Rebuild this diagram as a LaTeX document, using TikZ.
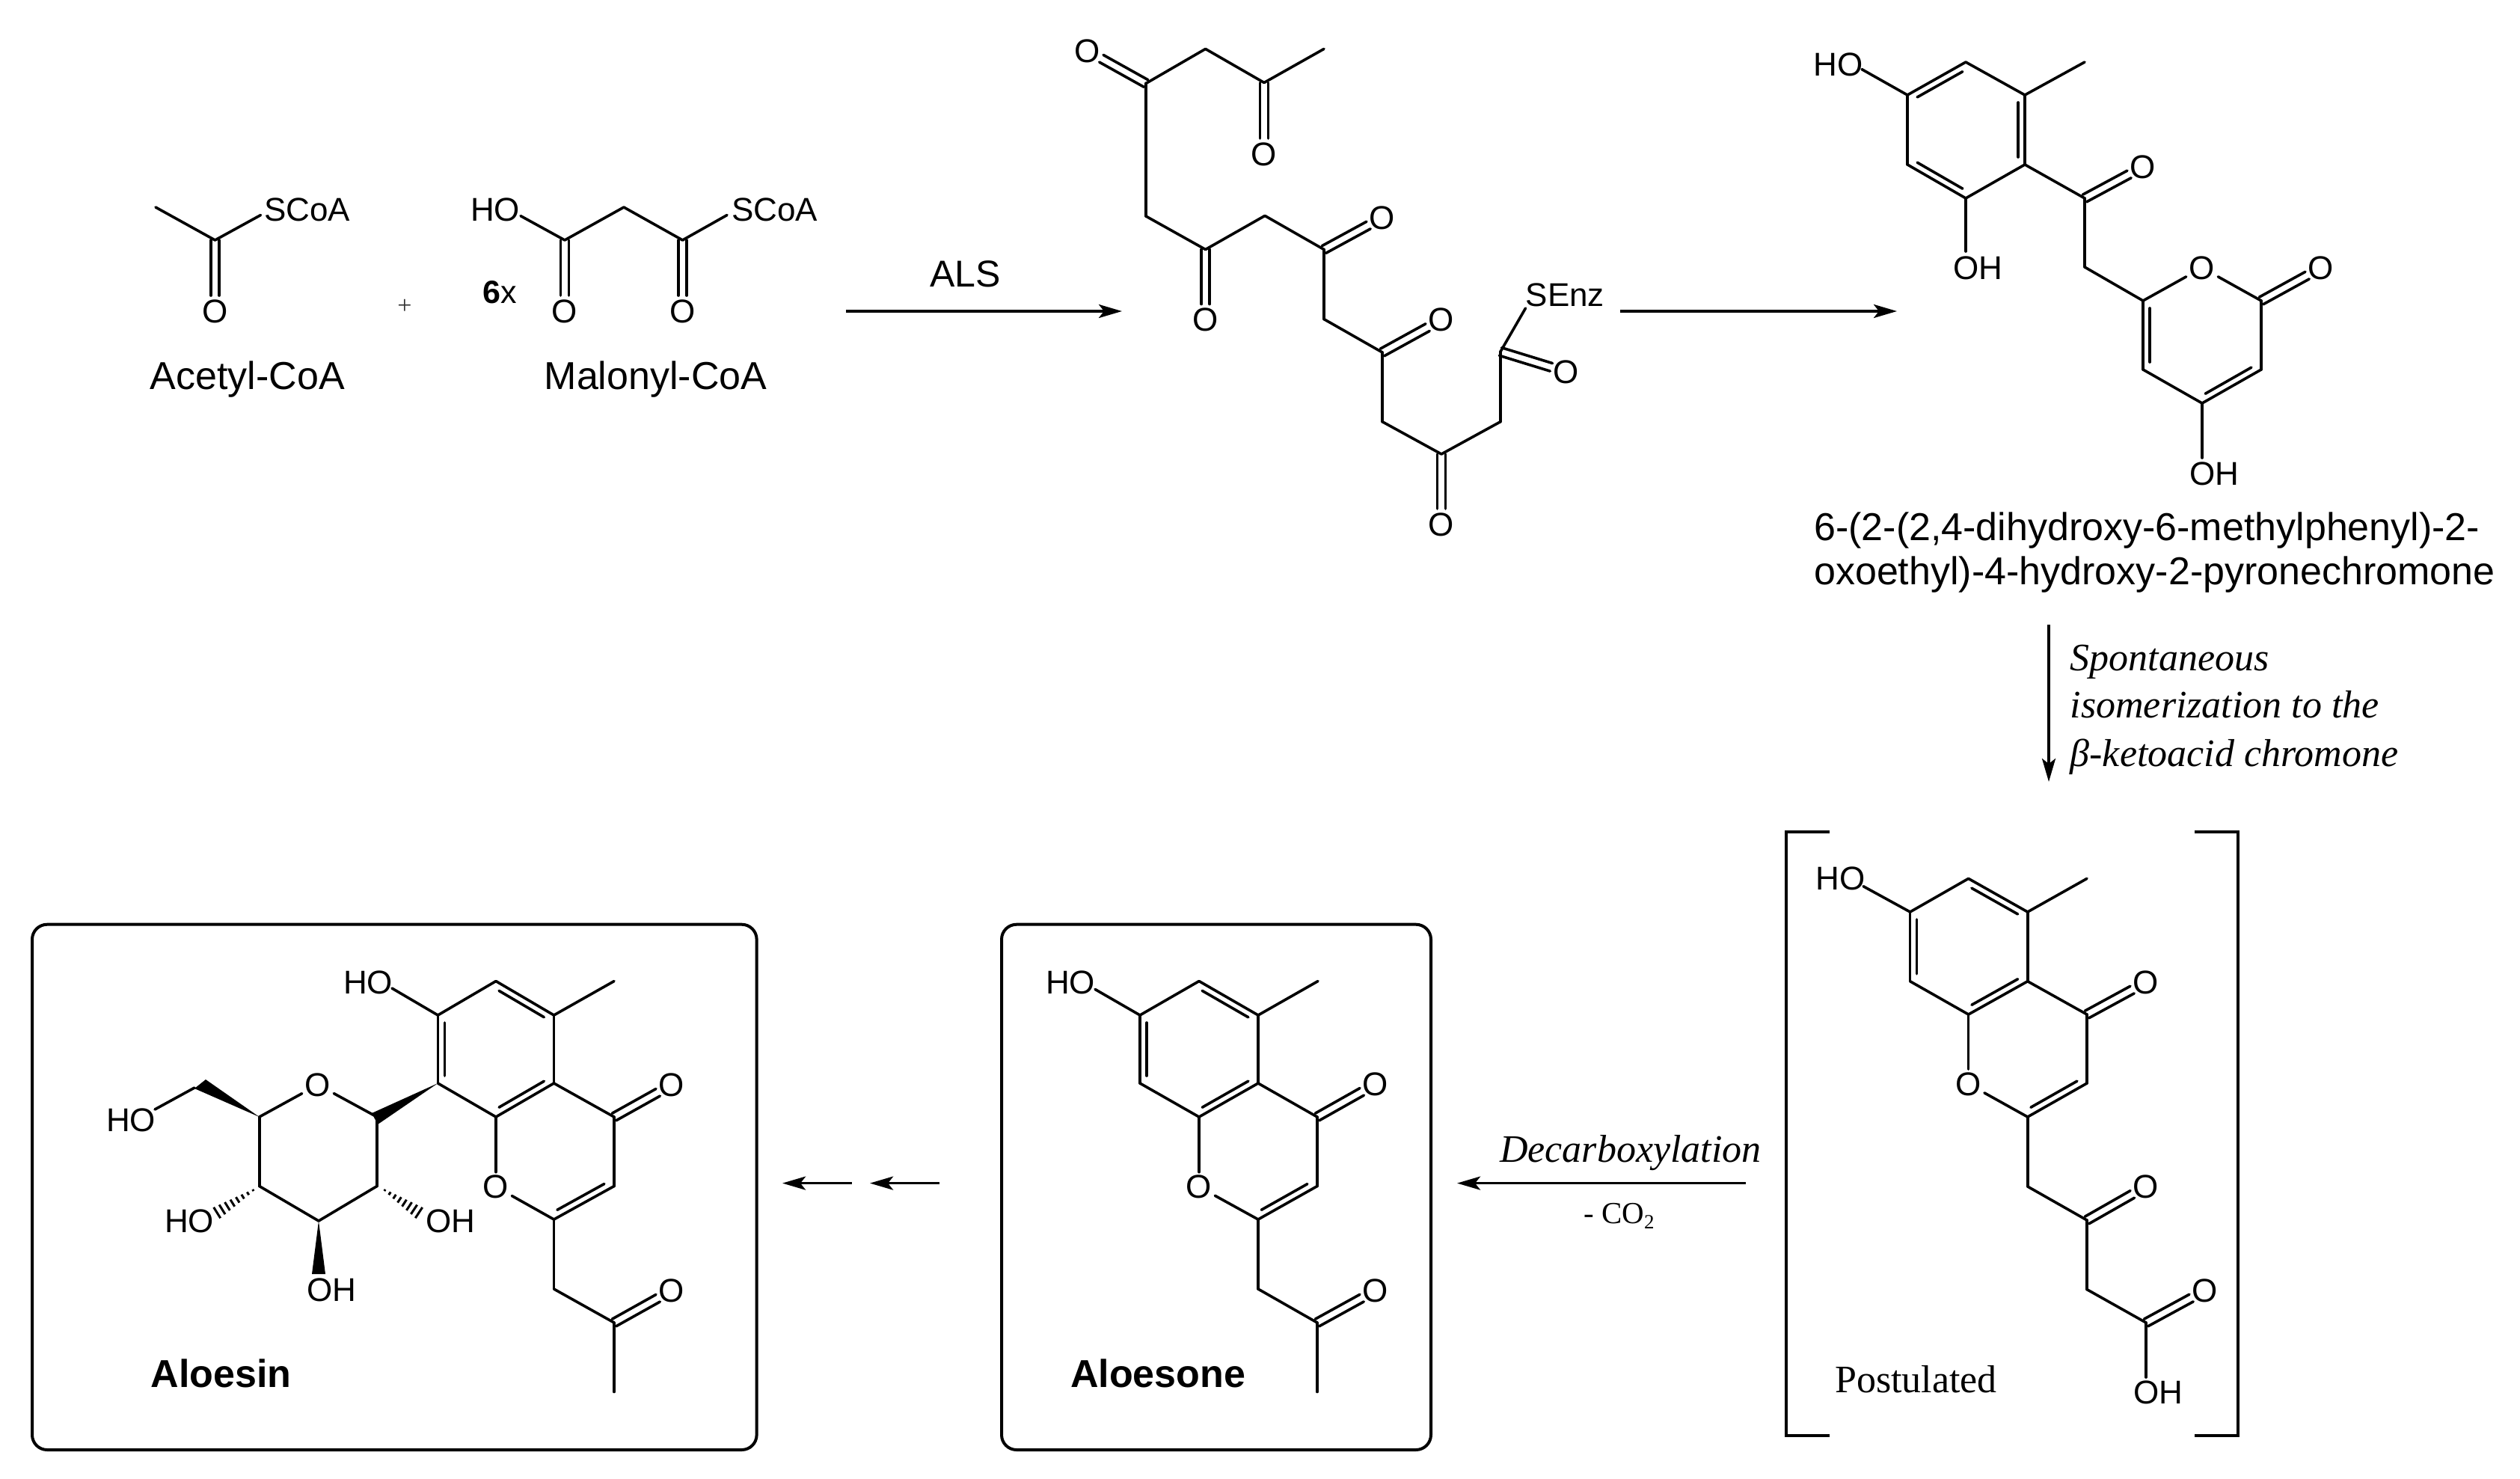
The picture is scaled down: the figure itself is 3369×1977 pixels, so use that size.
\documentclass[tikz,border=0pt]{standalone}
\usepackage{fontspec}
\setmainfont{Liberation Sans}
\newfontfamily\tms{Liberation Serif}
\usetikzlibrary{calc,arrows.meta}
\newcommand{\bnd}[2]{\draw[bond] (#1) -- (#2);}
\newcommand{\dbl}[2]{\draw[bond,shorten >=21pt] ($(#1)!5.5pt!90:(#2)$) -- ($(#2)!5.5pt!-90:(#1)$);\draw[bond,shorten >=21pt] ($(#1)!5.5pt!-90:(#2)$) -- ($(#2)!5.5pt!90:(#1)$);}
\newcommand{\rd}[2]{\draw[bond] (#1) -- (#2);\draw[bond,shorten >=10pt,shorten <=10pt] ($(#1)!9pt!-90:(#2)$) -- ($(#2)!9pt!90:(#1)$);}
\newcommand{\hsh}[2]{\foreach \t in {0.03,0.16,0.29,0.42,0.55,0.68,0.81,0.94}{\pgfmathsetmacro{\w}{1+8*\t}\draw[line width=3pt] ($($(#1)!\t!(#2)$)!\w pt!90:(#2)$) -- ($($(#1)!\t!(#2)$)!\w pt!-90:(#2)$);}}
% ring bonds shared by the three chromones
\newcommand{\chrom}[1]{%
 \bnd{#1a}{#1b}\rd{#1b}{#1c}\bnd{#1c}{#1d}\rd{#1d}{#1e}\bnd{#1e}{#1f}\rd{#1f}{#1a}
 \bnd{#1c}{#1m}\bnd{#1d}{#1g}\dbl{#1g}{#1oa}\bnd{#1g}{#1h}\rd{#1h}{#1i}
 \bnd{#1i}{#1or}\bnd{#1e}{#1or}\bnd{#1i}{#1j}\bnd{#1j}{#1k}\dbl{#1k}{#1ob}}
\tikzset{
 bond/.style={line width=3.6pt,line cap=round,line join=round},
 arrow/.style={line width=3.6pt,-{Stealth[length=31pt,width=18pt,inset=7pt]}},
 frame/.style={line width=4pt,rounded corners=20pt},
 brack/.style={line width=4pt,line join=miter},
 atom/.style={font=\fontsize{44}{44}\selectfont,inner sep=4pt},
 grp/.style={font=\fontsize{44}{44}\selectfont,inner sep=0pt},
 title/.style={font=\fontsize{52}{52}\selectfont,anchor=base west,inner sep=0pt},
 btitle/.style={font=\fontsize{52}{52}\selectfont\bfseries,anchor=base west,inner sep=0pt},
 note/.style={font=\fontsize{52}{52}\selectfont\tms\itshape,anchor=base west,inner sep=0pt},
 plain/.style={font=\fontsize{52}{52}\selectfont\tms,anchor=base west,inner sep=0pt},
}
\begin{document}
\begin{tikzpicture}[x=1pt,y=-1pt]
\useasboundingbox (0,0) rectangle (3369,1977);
% ---------- Acetyl-CoA
\coordinate (Am) at (208,277); \coordinate (Ac) at (287.5,321); \coordinate (As) at (348.5,287.5);
\node[atom] (Ao) at (287.5,416) {O};
\node[grp,anchor=west] (Asc) at (353,280) {SCoA};
\bnd{Am}{Ac}\bnd{Ac}{As}\dbl{Ac}{Ao}
\node[title] (Alab) at (200.5,520) {Acetyl-CoA};
\node[font=\fontsize{34}{34}\selectfont\tms,text=black!80,inner sep=0pt] (plus) at (541,410) {+};
% ---------- Malonyl-CoA
\coordinate (Mh) at (696,288.6); \coordinate (Mc) at (755,321); \coordinate (Mm) at (834,277);
\coordinate (Md) at (912.5,321); \coordinate (Ms) at (972,287.5);
\node[grp,anchor=west] (Mho) at (629,280) {HO};
\node[grp,anchor=west] (Msc) at (978,280) {SCoA};
\node[atom] (Moa) at (755,416) {O};
\node[atom] (Mob) at (912.5,416) {O};
\bnd{Mh}{Mc}\bnd{Mc}{Mm}\bnd{Mm}{Md}\bnd{Md}{Ms}\dbl{Mc}{Moa}\dbl{Md}{Mob}
\node[font=\fontsize{43}{43}\selectfont,anchor=base west,inner sep=0pt] (Msix) at (645,405) {\textbf{6}x};
\node[title] (Mlab) at (727.5,520) {Malonyl-CoA};
% ---------- arrow ALS
\coordinate (a1s) at (1131,416); \coordinate (a1e) at (1500,416);
\draw[arrow] (a1s) -- (a1e);
\node[font=\fontsize{50}{50}\selectfont,anchor=base west,inner sep=0pt] (als) at (1243,383) {ALS};
% ---------- polyketide
\coordinate (P1) at (1532,111.5); \coordinate (P2) at (1611.6,65.4); \coordinate (P3) at (1690,110.5);
\coordinate (P4) at (1770,65.4); \coordinate (P5) at (1532,289); \coordinate (P6) at (1611.6,333.5);
\coordinate (P7) at (1691,288.4); \coordinate (P8) at (1770,333.5); \coordinate (P9) at (1770,426.6);
\coordinate (P10) at (1848,471); \coordinate (P11) at (1848,563.7); \coordinate (P12) at (1927,607);
\coordinate (P13) at (2006,563.7); \coordinate (P14) at (2006,470); \coordinate (Ps) at (2039.5,412);
\node[atom] (Pa) at (1454,68) {O};
\node[atom] (Pb) at (1690,206) {O};
\node[atom] (Pc) at (1611.6,427.5) {O};
\node[atom] (Pd) at (1848,291) {O};
\node[atom] (Pe) at (1927,427.5) {O};
\node[atom] (Pf) at (1927,701) {O};
\node[atom] (Pg) at (2094,497) {O};
\node[grp,anchor=west] (Psenz) at (2039.5,394) {SEnz};
\bnd{P1}{P2}\bnd{P2}{P3}\bnd{P3}{P4}\bnd{P1}{P5}\bnd{P5}{P6}\bnd{P6}{P7}\bnd{P7}{P8}\bnd{P8}{P9}
\bnd{P9}{P10}\bnd{P10}{P11}\bnd{P11}{P12}\bnd{P12}{P13}\bnd{P13}{P14}\bnd{P14}{Ps}
\dbl{P1}{Pa}\dbl{P3}{Pb}\dbl{P6}{Pc}\dbl{P8}{Pd}\dbl{P10}{Pe}\dbl{P12}{Pf}\dbl{P14}{Pg}
% ---------- arrow 2
\coordinate (a2s) at (2166,416); \coordinate (a2e) at (2536,416);
\draw[arrow] (a2s) -- (a2e);
% ---------- pyrone
\coordinate (Ra) at (2550,127); \coordinate (Rb) at (2628,83); \coordinate (Rc) at (2707,127);
\coordinate (Rd) at (2707,220); \coordinate (Re) at (2628,265); \coordinate (Rf) at (2550,220);
\coordinate (Rm) at (2787,83); \coordinate (Rh) at (2489,92.6); \coordinate (Rk) at (2787,265);
\coordinate (Rn) at (2628,336); \coordinate (Rq) at (2787,357);
\coordinate (R1) at (2865,402); \coordinate (R2) at (3023,402); \coordinate (R3) at (3023,494);
\coordinate (R4) at (2944,539); \coordinate (R5) at (2865,494); \coordinate (Rw) at (2944,612);
\node[grp,anchor=west] (Rho) at (2424,86) {HO};
\node[grp,anchor=west] (Roh) at (2611,358) {OH};
\node[atom] (Ro) at (2865,223) {O};
\node[atom] (Rr) at (2944,358) {O};
\node[atom] (Rx) at (3103,358) {O};
\node[grp,anchor=west] (Rp) at (2927,633.5) {OH};
\rd{Ra}{Rb}\bnd{Rb}{Rc}\rd{Rc}{Rd}\bnd{Rd}{Re}\rd{Re}{Rf}\bnd{Rf}{Ra}
\bnd{Rc}{Rm}\bnd{Ra}{Rh}\bnd{Re}{Rn}\bnd{Rd}{Rk}\dbl{Rk}{Ro}\bnd{Rk}{Rq}\bnd{Rq}{R1}
\bnd{R1}{Rr}\bnd{Rr}{R2}\dbl{R2}{Rx}\bnd{R2}{R3}\rd{R3}{R4}\rd{R5}{R1}\bnd{R4}{R5}\bnd{R4}{Rw}
\node[title] (Rl1) at (2425,722) {6-(2-(2,4-dihydroxy-6-methylphenyl)-2-};
\node[title] (Rl2) at (2425,781) {oxoethyl)-4-hydroxy-2-pyronechromone};
% ---------- vertical arrow
\coordinate (a3s) at (2739,835); \coordinate (a3e) at (2739,1045);
\draw[arrow] (a3s) -- (a3e);
\node[note] (n1) at (2767.5,896) {Spontaneous};
\node[note] (n2) at (2767.5,959) {isomerization to the};
\node[note] (n3) at (2767.5,1024) {β-ketoacid chromone};
% ---------- postulated
\coordinate (b1) at (2446,1111.5); \coordinate (b2) at (2388,1111.5); \coordinate (b3) at (2388,1919); \coordinate (b4) at (2446,1919);
\coordinate (b5) at (2934,1111.5); \coordinate (b6) at (2992,1111.5); \coordinate (b7) at (2992,1919); \coordinate (b8) at (2934,1919);
\draw[brack] (b1) -- (b2) -- (b3) -- (b4);
\draw[brack] (b5) -- (b6) -- (b7) -- (b8);
\coordinate (Ka) at (2553.6,1219); \coordinate (Kb) at (2631.6,1174.4); \coordinate (Kc) at (2710.7,1219);
\coordinate (Kd) at (2710.7,1311.7); \coordinate (Ke) at (2631.6,1356); \coordinate (Kf) at (2553.6,1311.7);
\coordinate (Km) at (2790,1174.4); \coordinate (Kg) at (2790,1356); \coordinate (Kh) at (2790,1448);
\coordinate (Ki) at (2710.7,1493); \coordinate (Kj) at (2710.7,1586); \coordinate (Kk) at (2790,1631);
\coordinate (Kl) at (2790,1723.6); \coordinate (Kn) at (2869,1768); \coordinate (Kt) at (2869,1841); \coordinate (Kv) at (2491,1184.7);
\node[grp,anchor=west] (Kho) at (2427,1174.4) {HO};
\node[atom] (Koa) at (2869,1313) {O};
\node[atom] (Kor) at (2631.6,1449) {O};
\node[atom] (Kob) at (2869,1586) {O};
\node[atom] (Koc) at (2948,1725) {O};
\node[grp,anchor=west] (Koh) at (2852,1861) {OH};
\chrom{K}\bnd{Ka}{Kv}\bnd{Kk}{Kl}\bnd{Kl}{Kn}\dbl{Kn}{Koc}\bnd{Kn}{Kt}
\node[plain] (Kp) at (2453,1861) {Postulated};
% ---------- decarboxylation arrow
\coordinate (a4s) at (2333.5,1581.6); \coordinate (a4e) at (1948,1581.6);
\draw[arrow] (a4s) -- (a4e);
\node[note] (d1) at (2005,1553) {Decarboxylation};
\node[font=\fontsize{41}{41}\selectfont\tms,anchor=base west,inner sep=0pt] (d2) at (2117,1635) {- CO\raisebox{-7pt}{\fontsize{27}{27}\selectfont 2}};
% ---------- aloesone
\draw[frame] (1339,1235.7) rectangle (1913,1938);
\coordinate (Ea) at (1524,1357); \coordinate (Eb) at (1603,1311.5); \coordinate (Ec) at (1682,1357);
\coordinate (Ed) at (1682,1448); \coordinate (Ee) at (1603,1493); \coordinate (Ef) at (1524,1448);
\coordinate (Em) at (1762,1311.5); \coordinate (Eg) at (1761,1493); \coordinate (Eh) at (1761,1585.5);
\coordinate (Ei) at (1682,1630); \coordinate (Ej) at (1682,1723); \coordinate (Ek) at (1761,1768);
\coordinate (El) at (1761,1860.5); \coordinate (Ev) at (1464,1322.4);
\node[grp,anchor=west] (Eho) at (1398,1313) {HO};
\node[atom] (Eoa) at (1839,1449) {O};
\node[atom] (Eor) at (1603,1586.5) {O};
\node[atom] (Eob) at (1839,1725) {O};
\chrom{E}\bnd{Ea}{Ev}\bnd{Ek}{El}
\node[btitle] (Et) at (1431,1854) {Aloesone};
% ---------- double arrow
\coordinate (a5s) at (1256,1581.6); \coordinate (a5e) at (1163,1581.6);
\coordinate (a6s) at (1138.5,1581.6); \coordinate (a6e) at (1046,1581.6);
\draw[arrow] (a5s) -- (a5e);
\draw[arrow] (a6s) -- (a6e);
% ---------- aloesin
\draw[frame] (43,1235.7) rectangle (1011.6,1938);
\coordinate (Na) at (585.4,1357); \coordinate (Nb) at (663,1311.5); \coordinate (Nc) at (740.5,1357);
\coordinate (Nd) at (740.5,1448); \coordinate (Ne) at (663,1493); \coordinate (Nf) at (585.4,1448);
\coordinate (Nm) at (821,1311.5); \coordinate (Ng) at (821,1493); \coordinate (Nh) at (821,1585.5);
\coordinate (Ni) at (740.5,1630); \coordinate (Nj) at (740.5,1723); \coordinate (Nk) at (821,1768);
\coordinate (Nl) at (821,1860.5); \coordinate (Nv) at (524,1321);
\node[grp,anchor=west] (Nho) at (459,1313) {HO};
\node[atom] (Noa) at (898,1450) {O};
\node[atom] (Nor) at (663,1586.5) {O};
\node[atom] (Nob) at (898,1725) {O};
\chrom{N}\bnd{Na}{Nv}\bnd{Nk}{Nl}
% sugar
\coordinate (S1) at (504,1493); \coordinate (S2) at (504,1585.5); \coordinate (S3) at (426,1632);
\coordinate (S4) at (346.7,1585.5); \coordinate (S5) at (346.7,1493); \coordinate (S6) at (260,1454);
\coordinate (S7) at (207,1483); \coordinate (Sh1) at (340,1590); \coordinate (Sh2) at (287,1623);
\coordinate (Sh3) at (513,1590); \coordinate (Sh4) at (563,1623);
\node[atom] (So) at (425,1450) {O};
\node[grp,anchor=west] (Sa) at (142,1497) {HO};
\node[grp,anchor=west] (Sb) at (220,1632) {HO};
\node[grp,anchor=west] (Sc) at (569,1632) {OH};
\node[grp,anchor=west] (Sd) at (410,1724) {OH};
\bnd{S1}{So}\bnd{S5}{So}\bnd{S1}{S2}\bnd{S2}{S3}\bnd{S3}{S4}\bnd{S4}{S5}\bnd{S6}{S7}
\fill (Nf) -- (497,1488) -- (505,1503) -- cycle;
\fill (S5) -- (275,1443) -- (260,1455) -- cycle;
\fill (S3) -- (417,1703) -- (435,1703) -- cycle;
\hsh{Sh1}{Sh2}\hsh{Sh3}{Sh4}
\node[btitle] (Nt) at (201.5,1854) {Aloesin};
\end{tikzpicture}
\end{document}
